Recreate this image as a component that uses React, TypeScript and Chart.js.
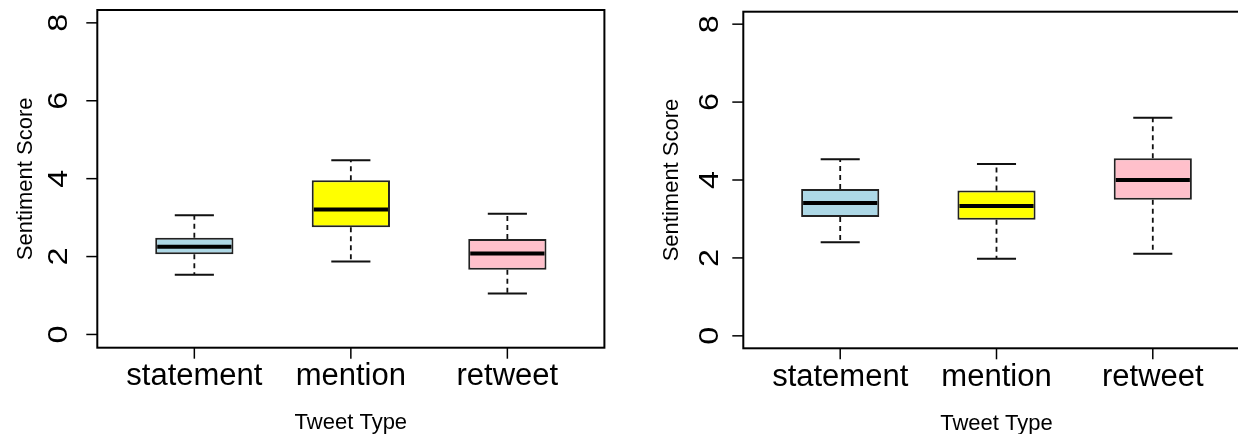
import React, { useEffect, useRef } from "react";
import { Chart, registerables } from "chart.js";

Chart.register(...registerables);

// ---------- data ----------
const CATEGORIES = ["statement", "mention", "retweet"];
const BOX_COLORS = ["#ADD8E6", "#FFFF00", "#FFC0CB"];
const Y_TICKS = [0, 2, 4, 6, 8];
const X_TITLE = "Tweet Type";
const Y_TITLE = "Sentiment Score";

// left panel (lower whisker, Q1, median, Q3, upper whisker)
const LEFT_MIN = [1.53, 1.87, 1.05];
const LEFT_Q1 = [2.06, 2.75, 1.66];
const LEFT_MEDIAN = [2.25, 3.21, 2.08];
const LEFT_Q3 = [2.48, 3.96, 2.45];
const LEFT_MAX = [3.06, 4.47, 3.1];

// right panel
const RIGHT_MIN = [2.4, 1.98, 2.11];
const RIGHT_Q1 = [3.05, 2.98, 3.49];
const RIGHT_MEDIAN = [3.41, 3.33, 4.0];
const RIGHT_Q3 = [3.77, 3.73, 4.56];
const RIGHT_MAX = [4.53, 4.41, 5.6];

const FONT = '"Liberation Sans", Arial, Helvetica, sans-serif';

const boxPlugin = {
  id: "rbox",
  afterDatasetsDraw(chart: any, _args: any, opts: any) {
    const { ctx, chartArea: a } = chart;
    const x = chart.scales.x;
    const y = chart.scales.y;
    const meta = chart.getDatasetMeta(0);
    const mins: number[] = opts.mins;
    const maxs: number[] = opts.maxs;
    const meds: number[] = opts.medians;
    const q1s: number[] = opts.q1s;
    const q3s: number[] = opts.q3s;
    ctx.save();
    for (let i = 0; i < CATEGORIES.length; i++) {
      const cx = x.getPixelForValue(i + 1);
      const capHalf = x.getPixelForValue(i + 1 + 0.125) - cx;
      const el = meta.data[i];
      const half = el.width / 2;
      // whiskers
      ctx.strokeStyle = "#111";
      ctx.lineWidth = 1.8;
      ctx.setLineDash([5, 4]);
      ctx.beginPath();
      ctx.moveTo(cx, y.getPixelForValue(q3s[i]));
      ctx.lineTo(cx, y.getPixelForValue(maxs[i]));
      ctx.moveTo(cx, y.getPixelForValue(q1s[i]));
      ctx.lineTo(cx, y.getPixelForValue(mins[i]));
      ctx.stroke();
      ctx.setLineDash([]);
      // caps
      ctx.lineWidth = 2;
      ctx.beginPath();
      ctx.moveTo(cx - capHalf, y.getPixelForValue(maxs[i]));
      ctx.lineTo(cx + capHalf, y.getPixelForValue(maxs[i]));
      ctx.moveTo(cx - capHalf, y.getPixelForValue(mins[i]));
      ctx.lineTo(cx + capHalf, y.getPixelForValue(mins[i]));
      ctx.stroke();
      // median
      ctx.strokeStyle = "#000";
      ctx.lineWidth = 4;
      ctx.beginPath();
      ctx.moveTo(el.x - half + 2, y.getPixelForValue(meds[i]));
      ctx.lineTo(el.x + half - 2, y.getPixelForValue(meds[i]));
      ctx.stroke();
    }
    // frame
    ctx.strokeStyle = "#000";
    ctx.lineWidth = 2;
    ctx.strokeRect(a.left, a.top, a.right - a.left, a.bottom - a.top);
    // y ticks + labels
    ctx.lineWidth = 1.5;
    ctx.fillStyle = "#000";
    for (const v of Y_TICKS) {
      const py = y.getPixelForValue(v);
      ctx.beginPath();
      ctx.moveTo(a.left - 11, py);
      ctx.lineTo(a.left, py);
      ctx.stroke();
      ctx.save();
      ctx.translate(a.left - opts.yLabelGap, py);
      ctx.rotate(-Math.PI / 2);
      ctx.scale(1.2, 1);
      ctx.font = `27px ${FONT}`;
      ctx.textAlign = "center";
      ctx.textBaseline = "alphabetic";
      ctx.fillText(String(v), 0, 0);
      ctx.restore();
    }
    // x ticks + labels
    for (let i = 0; i < CATEGORIES.length; i++) {
      const px = x.getPixelForValue(i + 1);
      ctx.beginPath();
      ctx.moveTo(px, a.bottom);
      ctx.lineTo(px, a.bottom + 11);
      ctx.stroke();
      ctx.font = `31px ${FONT}`;
      ctx.textAlign = "center";
      ctx.textBaseline = "alphabetic";
      ctx.fillText(CATEGORIES[i], px, a.bottom + 37.5);
    }
    // titles
    const midX = (x.getPixelForValue(1) + x.getPixelForValue(3)) / 2;
    ctx.font = `22px ${FONT}`;
    ctx.textAlign = "center";
    ctx.fillText(X_TITLE, midX, a.bottom + 81.3);
    ctx.save();
    ctx.translate(a.left - 65.3, (a.top + a.bottom) / 2);
    ctx.rotate(-Math.PI / 2);
    ctx.fillText(Y_TITLE, 0, 0);
    ctx.restore();
    ctx.restore();
  },
};

type PanelProps = {
  mins: number[];
  q1s: number[];
  medians: number[];
  q3s: number[];
  maxs: number[];
  left: number;
  width: number;
  padding: { left: number; right: number; top: number; bottom: number };
  yMin: number;
  yMax: number;
  yLabelGap: number;
};

function BoxPanel(props: PanelProps) {
  const ref = useRef<HTMLCanvasElement | null>(null);
  useEffect(() => {
    if (!ref.current) return;
    const chart = new Chart(ref.current, {
      type: "bar",
      data: {
        datasets: [
          {
            data: CATEGORIES.map((_, i) => ({ x: i + 1, y: [props.q1s[i], props.q3s[i]] })) as any,
            backgroundColor: BOX_COLORS,
            borderColor: "#222",
            borderWidth: 2,
            borderSkipped: false,
            barPercentage: 0.5,
            categoryPercentage: 1,
          },
        ],
      },
      options: {
        animation: false,
        responsive: false,
        devicePixelRatio: 1,
        layout: { padding: props.padding },
        plugins: {
          legend: { display: false },
          title: { display: false },
          tooltip: { enabled: false },
          rbox: {
            mins: props.mins,
            q1s: props.q1s,
            medians: props.medians,
            q3s: props.q3s,
            maxs: props.maxs,
            yLabelGap: props.yLabelGap,
          },
        } as any,
        scales: {
          x: {
            type: "linear",
            min: 0.38,
            max: 3.62,
            offset: false,
            display: false,
            afterBuildTicks: (scale: any) => {
              scale.ticks = CATEGORIES.map((_, i) => ({ value: i + 1 }));
            },
          },
          y: {
            type: "linear",
            min: props.yMin,
            max: props.yMax,
            display: false,
          },
        },
      },
      plugins: [boxPlugin as any],
    });
    return () => chart.destroy();
  }, []);
  return (
    <canvas
      ref={ref}
      width={props.width}
      height={434}
      style={{ position: "absolute", left: props.left, top: 0, width: props.width, height: 434 }}
    />
  );
}

export default function App() {
  return (
    <div
      style={{
        position: "absolute",
        left: 0,
        top: 0,
        width: 1238,
        height: 434,
        overflow: "hidden",
        background: "#fff",
      }}
    >
      <BoxPanel
        mins={LEFT_MIN}
        q1s={LEFT_Q1}
        medians={LEFT_MEDIAN}
        q3s={LEFT_Q3}
        maxs={LEFT_MAX}
        left={0}
        width={620}
        padding={{ left: 97.3, right: 15.6, top: 10, bottom: 86.3 }}
        yMin={-0.34}
        yMax={8.33}
        yLabelGap={30.5}
      />
      <BoxPanel
        mins={RIGHT_MIN}
        q1s={RIGHT_Q1}
        medians={RIGHT_MEDIAN}
        q3s={RIGHT_Q3}
        maxs={RIGHT_MAX}
        left={620}
        width={660}
        padding={{ left: 123.3, right: 30.3, top: 11.7, bottom: 85.7 }}
        yMin={-0.32}
        yMax={8.32}
        yLabelGap={25.3}
      />
    </div>
  );
}
